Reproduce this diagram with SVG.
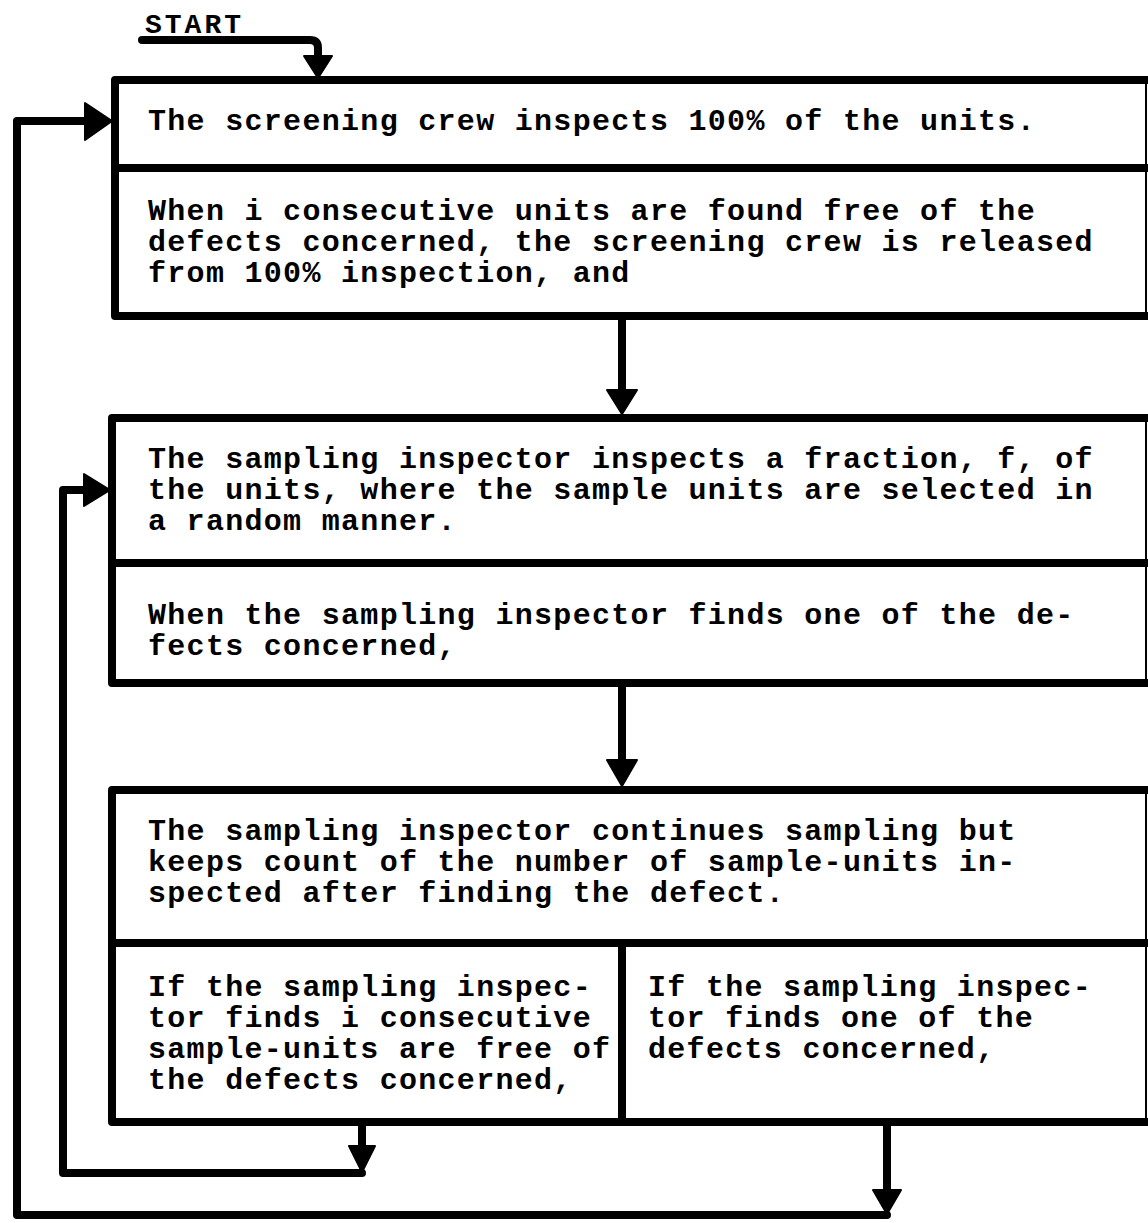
<svg xmlns="http://www.w3.org/2000/svg" width="1148" height="1223" viewBox="0 0 1148 1223">
<style>
.bx{fill:none;stroke:#000;stroke-width:8;stroke-linejoin:round;stroke-linecap:square}
.edge{fill:none;stroke:#000;stroke-width:2}
.ln{fill:none;stroke:#000;stroke-width:8;stroke-linejoin:round;stroke-linecap:round}
.ah{fill:#000;stroke:#000;stroke-width:2;stroke-linejoin:round}
text{font-family:"Liberation Mono","Courier New",monospace;font-weight:bold;font-size:30px;letter-spacing:1.3px;fill:#000}
</style>
<rect width="1148" height="1223" fill="#fff"/>
<g id="start">
<text x="145" y="33" style="font-size:28px;letter-spacing:3px">START</text>
</g>
<g id="box1">
<path class="bx" d="M1150,80 H115 V316 H1150 M115,168 H1150"/>
<path class="edge" d="M1146,80 V316"/>
<text x="148" y="130">The screening crew inspects 100% of the units.</text>
<text x="148" y="220">When i consecutive units are found free of the</text>
<text x="148" y="251">defects concerned, the screening crew is released</text>
<text x="148" y="282">from 100% inspection, and</text>
</g>
<g id="box2">
<path class="bx" d="M1150,418 H112 V683 H1150 M112,563 H1150"/>
<path class="edge" d="M1146,418 V683"/>
<text x="148" y="468">The sampling inspector inspects a fraction, f, of</text>
<text x="148" y="499">the units, where the sample units are selected in</text>
<text x="148" y="530">a random manner.</text>
<text x="148" y="624">When the sampling inspector finds one of the de-</text>
<text x="148" y="655">fects concerned,</text>
</g>
<g id="box3">
<path class="bx" d="M1150,790 H112 V1122 H1150 M112,943 H1150 M622,943 V1122"/>
<path class="edge" d="M1146,790 V1122"/>
<text x="148" y="840">The sampling inspector continues sampling but</text>
<text x="148" y="871">keeps count of the number of sample-units in-</text>
<text x="148" y="902">spected after finding the defect.</text>
<text x="148" y="996">If the sampling inspec-</text>
<text x="148" y="1027">tor finds i consecutive</text>
<text x="148" y="1058">sample-units are free of</text>
<text x="148" y="1089">the defects concerned,</text>
<text x="648" y="996">If the sampling inspec-</text>
<text x="648" y="1027">tor finds one of the</text>
<text x="648" y="1058">defects concerned,</text>
</g>
<g id="connectors">
<path class="ln" d="M142,40 H310 Q318,40 318,48 V58"/>
<polygon class="ah" points="304,56 332,56 318,78"/>
<path class="ln" d="M622,316 V392"/>
<polygon class="ah" points="607,390 637,390 622,414"/>
<path class="ln" d="M622,683 V762"/>
<polygon class="ah" points="607,760 637,760 622,786"/>
<path class="ln" d="M362,1122 V1148"/>
<polygon class="ah" points="349,1146 375,1146 362,1172"/>
<path class="ln" d="M362,1173 H63 V490 H90"/>
<polygon class="ah" points="84,474 84,506 110,490"/>
<path class="ln" d="M887,1122 V1192"/>
<polygon class="ah" points="873,1190 901,1190 887,1214"/>
<path class="ln" d="M887,1215 H17 V121 H90"/>
<polygon class="ah" points="85,103 85,140 112,121"/>
</g>
</svg>
